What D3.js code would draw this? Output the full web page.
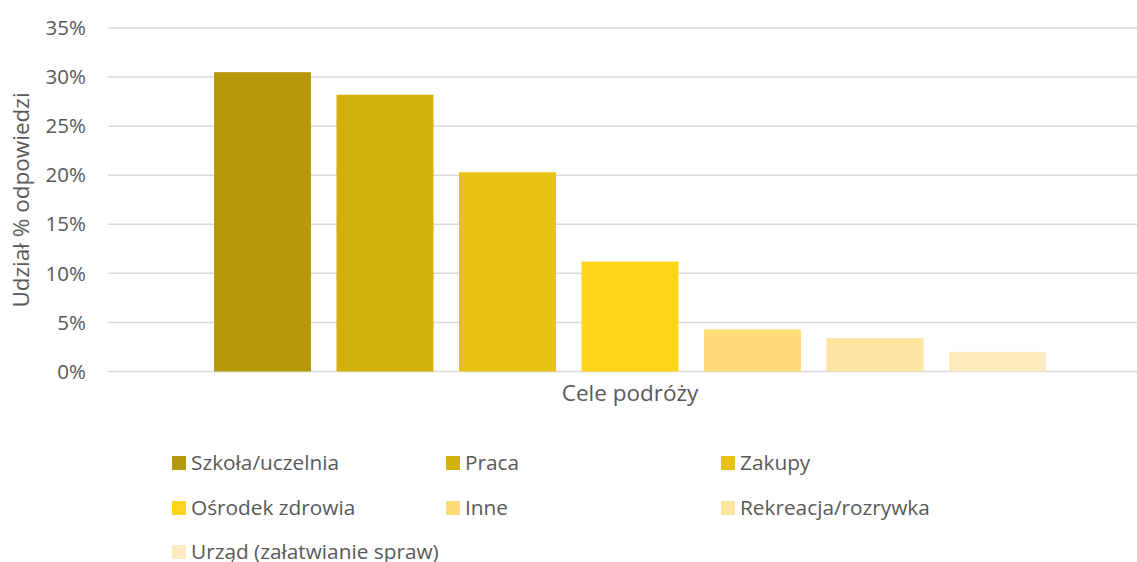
<!DOCTYPE html>
<html><head><meta charset="utf-8">
<script src="https://cdn.jsdelivr.net/npm/d3@7"></script>
<style>body{margin:0;background:#fff}svg{display:block}text{font-family:"Open Sans","Noto Sans",sans-serif;fill:#595959}</style>
</head><body><svg id="c" width="1137" height="562"></svg>
<script>
const categories = ["Szkoła/uczelnia","Praca","Zakupy","Ośrodek zdrowia","Inne","Rekreacja/rozrywka","Urząd (załatwianie spraw)"];
const values = [30.5, 28.2, 20.3, 11.2, 4.3, 3.4, 2.0];
const colors = ["#B5980C","#D2B10F","#E8C314","#FDD417","#FEDC77","#FDE4A1","#FEECC1"];
const yTicks = [0,5,10,15,20,25,30,35];
const xTitle = "Cele podróży";
const yTitle = "Udział % odpowiedzi";

(function(){
const svg = d3.select("#c");
const mLeft = 108, mRight = 1152, mTop = 28, mBottom = 371.5;
const y = d3.scaleLinear().domain([0,35]).range([mBottom, mTop]);
const x = d3.scaleBand().domain(categories).range([214, 1046]).paddingInner(0.208).paddingOuter(0);

svg.append("g").selectAll("line").data(yTicks).join("line")
  .attr("x1", mLeft).attr("x2", mRight).attr("y1", d=>y(d)).attr("y2", d=>y(d))
  .attr("stroke", "#d9d9d9").attr("stroke-width", 1.5);

svg.append("g").selectAll("text").data(yTicks).join("text")
  .attr("x", 86).attr("y", d=>y(d)).attr("dy","0.35em").attr("text-anchor","end")
  .attr("font-size", 20.5).text(d=>d+"%");

svg.append("g").selectAll("rect").data(values).join("rect")
  .attr("x", (d,i)=>x(categories[i])).attr("width", x.bandwidth())
  .attr("y", d=>y(d)).attr("height", d=>mBottom - y(d))
  .attr("fill", (d,i)=>colors[i]);

svg.append("text").attr("x", 630).attr("y", 393).attr("dy","0.35em").attr("text-anchor","middle")
  .attr("font-size", 22.5).text(xTitle);

svg.append("text").attr("transform","translate(21,200) rotate(-90)").attr("dy","0.35em")
  .attr("text-anchor","middle").attr("font-size", 22.5).text(yTitle);

const colX = [172, 446, 721], rowY = [463, 508, 552];
const lg = svg.append("g").selectAll("g").data(categories).join("g")
  .attr("transform", (d,i)=>`translate(${colX[i%3]},${rowY[Math.floor(i/3)]})`);
lg.append("rect").attr("x",0).attr("y",-7).attr("width",14).attr("height",14).attr("fill",(d,i)=>colors[i]);
lg.append("text").attr("x",19).attr("y",0).attr("dy","0.35em").attr("font-size",20.8).text(d=>d);
})();
</script></body></html>
